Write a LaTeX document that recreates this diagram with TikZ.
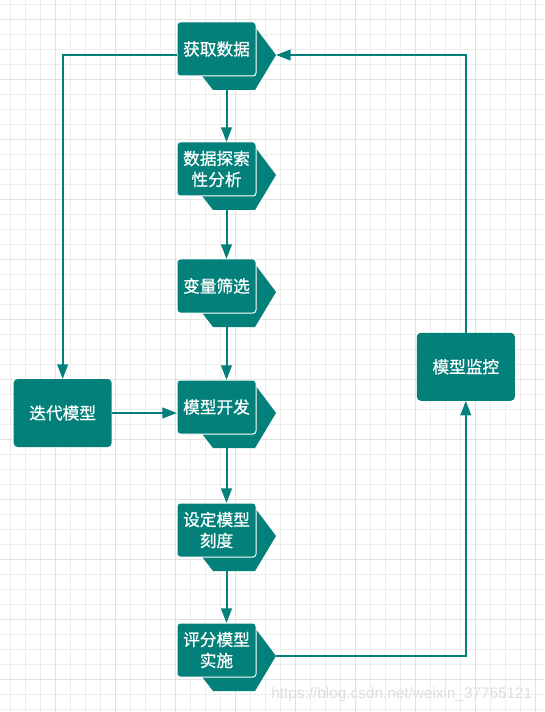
\documentclass[tikz,border=0pt]{standalone}
\usepackage{fontspec}
\usepackage{tikz}
\usetikzlibrary{arrows.meta,positioning}
\newfontfamily\cjk[FakeBold=0.8]{Noto Sans CJK SC}
\newfontfamily\markfont{Liberation Sans}
\definecolor{deepteal}{RGB}{3,128,122}
\definecolor{gridminor}{RGB}{237,237,237}
\definecolor{gridmajor}{RGB}{226,226,226}
\definecolor{markgray}{RGB}{222,222,222}
% back plate of a stage, drawn round the invisible stage node
\newcommand\stagehex[1]{\fill[deepteal] ([shift={(-40.5,0)}]#1.center) -- ([shift={(-19,-28)}]#1.center) -- ([shift={(28.5,-28)}]#1.center) -- ([shift={(49.5,0)}]#1.center) -- ([shift={(28.5,35)}]#1.center) -- ([shift={(-13.5,35)}]#1.center) -- cycle;}

\begin{document}
\begin{tikzpicture}[
  x=0.75pt, y=-0.75pt,
  stage/.style={minimum width=74.25pt, minimum height=52.5pt, inner sep=0pt, outer sep=0pt},
  stagebox/.style={draw=white, line width=0.75pt, fill=deepteal, rounded corners=2.25pt, align=center, text=white, minimum width=59.25pt, minimum height=40.5pt, inner sep=0pt, outer sep=0pt, font=\cjk\fontsize{12.5pt}{15.75pt}\selectfont},
  plainbox/.style={fill=deepteal, rounded corners=3pt, align=center, text=white, minimum width=73.5pt, minimum height=51pt, inner sep=0pt, outer sep=0pt, font=\cjk\fontsize{12.5pt}{15.75pt}\selectfont},
  arr/.style={-{Triangle[length=11pt,width=8pt]}, line width=1.5pt, draw=deepteal}
]
% paper and grid
\fill[white] (0,0) rectangle (544,712);
\useasboundingbox (0,0) rectangle (544,712);
\foreach \gx in {10,25,...,535} \draw[gridminor, line width=0.75pt] (\gx,0) -- (\gx,712);
\foreach \gy in {4.3,19.3,...,710} \draw[gridminor, line width=0.75pt] (0,\gy) -- (544,\gy);
\foreach \gx in {55,115,...,535} \draw[gridmajor, line width=0.75pt] (\gx,0) -- (\gx,712);
\foreach \gy in {19.3,79.3,...,700} \draw[gridmajor, line width=0.75pt] (0,\gy) -- (544,\gy);

% stages
\node[stage] (s1) at (226.5,55) {};
\node[stage, below=37.5pt of s1] (s2) {};
\node[stage, below=35.25pt of s2] (s3) {};
\node[stage, below=38.25pt of s3] (s4) {};
\node[stage, below=39.75pt of s4] (s5) {};
\node[stage, below=37.5pt of s5] (s6) {};
\stagehex{s1}
\stagehex{s2}
\stagehex{s3}
\stagehex{s4}
\stagehex{s5}
\stagehex{s6}
\node[stagebox] (b1) at ([shift={(-10,-6)}]s1.center) {获取数据};
\node[stagebox] (b2) at ([shift={(-10,-6)}]s2.center) {数据探索\\性分析};
\node[stagebox] (b3) at ([shift={(-10,-6)}]s3.center) {变量筛选};
\node[stagebox] (b4) at ([shift={(-10,-6)}]s4.center) {模型开发};
\node[stagebox] (b5) at ([shift={(-10,-6)}]s5.center) {设定模型\\刻度};
\node[stagebox] (b6) at ([shift={(-10,-6)}]s6.center) {评分模型\\实施};

\node[plainbox, left=49pt of s4] (iter) {迭代模型};
\node[plainbox] (mon) at (465.8,366.8) {模型监控};

\draw[arr] (s1.south) -- (s1.south |- b2.north);
\draw[arr] (s2.south) -- (s2.south |- b3.north);
\draw[arr] (s3.south) -- (s3.south |- b4.north);
\draw[arr] (s4.south) -- (s4.south |- b5.north);
\draw[arr] (s5.south) -- (s5.south |- b6.north);
\draw[arr] (iter.east) -- (s4.west);
\draw[arr] (s1.west) -| (iter.north);
\draw[arr] (s6.east) -| (mon.south);
\draw[arr] (mon.north) |- (s1.east);

\node[anchor=base east, text=markgray, font=\markfont\fontsize{11.5pt}{13pt}\selectfont] (mark) at (537,698) {https://blog.csdn.net/weixin\_37765121};
\end{tikzpicture}
\end{document}
